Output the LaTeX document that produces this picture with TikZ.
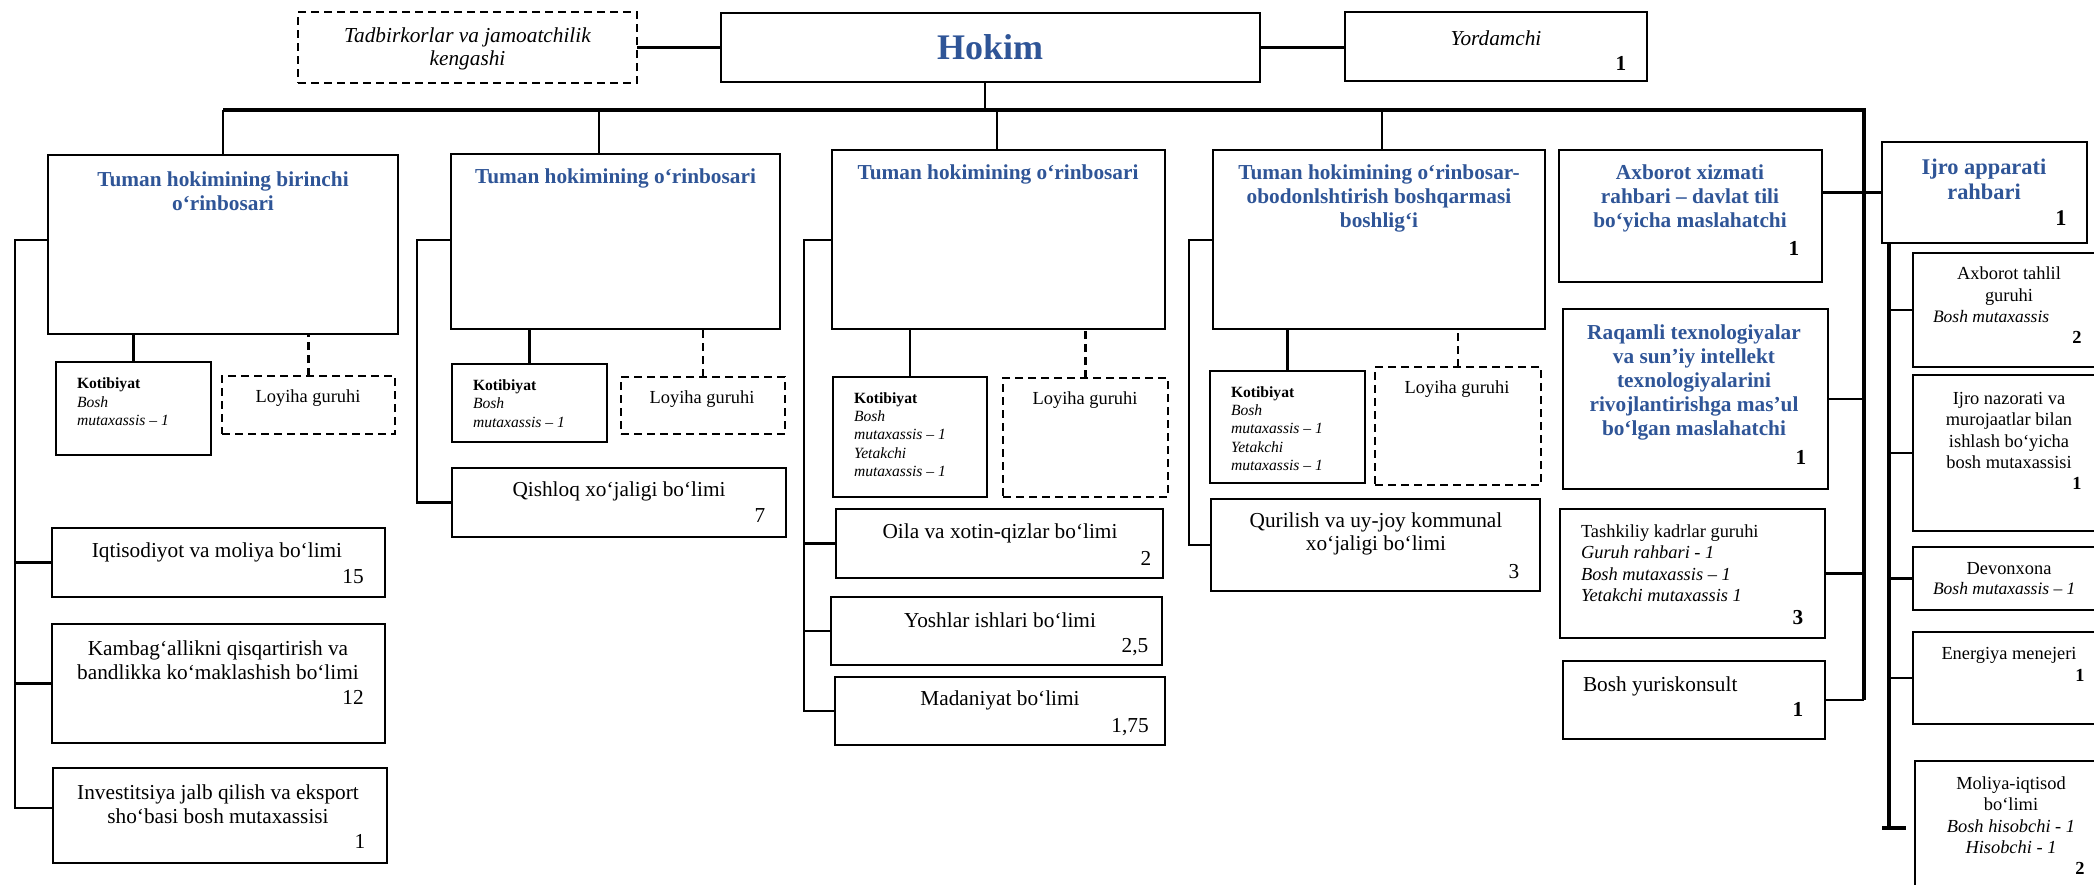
\documentclass[tikz,border=0pt]{standalone}
\usepackage{fontspec}
\setmainfont{Liberation Serif}
\usetikzlibrary{calc}
\definecolor{hblue}{RGB}{47,85,151}
\newcommand{\bx}[6]{\node[#6, minimum width={(#4)-(#2)}, minimum height={(#5)-(#3)}, anchor=north west] (#1) at (#2,#3) {};}
\tikzset{
  bxs/.style={draw, line width=2.2pt, inner sep=0pt, outer sep=0pt},
  dbx/.style={bxs, dash pattern=on 8pt off 5pt},
  conn/.style={line width=2.2pt},
  dconn/.style={line width=2.2pt, dash pattern=on 8pt off 5pt},
  bus/.style={line width=4pt, line join=miter},
  tt/.style={inner sep=0pt, outer sep=0pt, align=center},
  tr/.style={tt, font=\fontsize{21.3}{23.6}\selectfont},
  ti/.style={tt, font=\fontsize{21.3}{23}\selectfont\itshape},
  tb/.style={tt, text=hblue, font=\fontsize{21.3}{24}\selectfont\bfseries},
  tk/.style={tt, align=left, anchor=west, font=\fontsize{15.6}{18.4}\selectfont},
  tl/.style={tt, font=\fontsize{18.4}{21}\selectfont},
  ts/.style={tt, font=\fontsize{18.4}{21.5}\selectfont},
  nb/.style={tt, font=\fontsize{21.3}{23}\selectfont\bfseries},
  nbs/.style={tt, font=\fontsize{18.4}{21}\selectfont\bfseries},
}
\begin{document}
\begin{tikzpicture}[x=1pt,y=-1pt]
\useasboundingbox (0,0) rectangle (2094,884);
% ---------- top row
\bx{tadb}{298}{12}{637}{83}{dbx}
\node[ti] (tadbT) at (467.5,48.5) {Tadbirkorlar va jamoatchilik\\kengashi};
\bx{hokim}{721}{13}{1260}{82}{bxs}
\node[tt, text=hblue, font=\fontsize{36}{40}\selectfont\bfseries] (hokimT) at (990,47) {Hokim};
\bx{yord}{1345}{12}{1647}{81}{bxs}
\node[ti] (yordT) at (1496,38) {Yordamchi};
\node[nb] (yordN) at (1621,63) {1};
\draw[conn] (tadb.east) -- (hokim.west);
\draw[conn] (hokim.east) -- (yord.west |- hokim.east);
% ---------- bus
\coordinate (d1) at (223,110);
\coordinate (d2) at (599,110);
\coordinate (d3) at (997,110);
\coordinate (d4) at (1382,110);
\coordinate (busR) at (1864,110);
\coordinate (hd) at (985,82);
\draw[conn] (hd) -- (hd |- d1);
% ---------- column 1
\bx{b1}{48}{155}{398}{334}{bxs}
\node[tb] (b1T) at (223,191.5) {Tuman hokimining birinchi\\o‘rinbosari};
\bx{k1}{56}{362}{211}{455}{bxs}
\node[tk] (k1T) at (77,402) {\textbf{Kotibiyat}\\\textit{Bosh}\\\textit{mutaxassis – 1}};
\bx{l1}{222}{376}{395}{434}{dbx}
\node[tl] (l1T) at (308,398) {Loyiha guruhi};
\bx{iq}{52}{528}{385}{597}{bxs}
\node[tr] (iqT) at (217,552) {Iqtisodiyot va moliya bo‘limi};
\node[tr] (iqN) at (353,577) {15};
\bx{kb}{52}{624}{385}{743}{bxs}
\node[tr] (kbT) at (218,660) {Kambag‘allikni qisqartirish va\\bandlikka ko‘maklashish bo‘limi};
\node[tr] (kbN) at (353,697) {12};
\bx{inv}{53}{768}{387}{863}{bxs}
\node[tr] (invT) at (218,804.5) {Investitsiya jalb qilish va eksport\\sho‘basi bosh mutaxassisi};
\node[tr] (invN) at (360,841) {1};
\draw[conn] (b1.north) -- (b1.north |- d1);
\draw[conn] (k1.north) -- (k1.north |- b1.south);
\draw[dconn] (l1.north) -- (l1.north |- b1.south);
\coordinate (c1) at (15,240);
\coordinate (c1b) at (15,808);
\draw[conn] (b1.west |- c1) -- (c1) -- (c1b) -- (c1b -| inv.west);
\draw[conn] (c1 |- iq.west) -- (iq.west);
\draw[conn] (c1 |- kb.west) -- (kb.west);
% ---------- column 2
\bx{b2}{451}{154}{780}{329}{bxs}
\node[tb] (b2T) at (615.5,178) {Tuman hokimining o‘rinbosari};
\bx{k2}{452}{364}{607}{442}{bxs}
\node[tk] (k2T) at (473,403.5) {\textbf{Kotibiyat}\\\textit{Bosh}\\\textit{mutaxassis – 1}};
\bx{l2}{621}{377}{785}{434}{dbx}
\node[tl] (l2T) at (702,399) {Loyiha guruhi};
\bx{qish}{452}{468}{786}{537}{bxs}
\node[tr] (qishT) at (619,491) {Qishloq xo‘jaligi bo‘limi};
\node[tr] (qishN) at (760,516) {7};
\draw[conn] (d2) -- (d2 |- b2.north);
\draw[conn] (k2.north) -- (k2.north |- b2.south);
\draw[dconn] (l2.north) -- (l2.north |- b2.south);
\coordinate (c2) at (417,240);
\draw[conn] (b2.west |- c2) -- (c2) -- (c2 |- qish.west) -- (qish.west);
% ---------- column 3
\bx{b3}{832}{150}{1165}{329}{bxs}
\node[tb] (b3T) at (998,174) {Tuman hokimining o‘rinbosari};
\bx{k3}{833}{377}{987}{497}{bxs}
\node[tk] (k3T) at (854,434.5) {\textbf{Kotibiyat}\\\textit{Bosh}\\\textit{mutaxassis – 1}\\\textit{Yetakchi}\\\textit{mutaxassis – 1}};
\bx{l3}{1003}{378}{1168}{497}{dbx}
\node[tl] (l3T) at (1085,400) {Loyiha guruhi};
\bx{oila}{836}{509}{1163}{578}{bxs}
\node[tr] (oilaT) at (1000,533) {Oila va xotin-qizlar bo‘limi};
\node[tr] (oilaN) at (1146,558) {2};
\bx{yosh}{831}{597}{1162}{665}{bxs}
\node[tr] (yoshT) at (1000,620) {Yoshlar ishlari bo‘limi};
\node[tr] (yoshN) at (1135,647) {2,5};
\bx{mad}{835}{677}{1165}{745}{bxs}
\node[tr] (madT) at (1000,700) {Madaniyat bo‘limi};
\node[tr] (madN) at (1130,727) {1,75};
\draw[conn] (d3) -- (d3 |- b3.north);
\draw[conn] (k3.north) -- (k3.north |- b3.south);
\draw[dconn] (l3.north) -- (l3.north |- b3.south);
\coordinate (c3) at (804,240);
\draw[conn] (b3.west |- c3) -- (c3) -- (c3 |- mad.west) -- (mad.west);
\draw[conn] (c3 |- oila.west) -- (oila.west);
\draw[conn] (c3 |- yosh.west) -- (yosh.west);
% ---------- column 4
\bx{b4}{1213}{150}{1545}{329}{bxs}
\node[tb] (b4T) at (1379,198) {Tuman hokimining o‘rinbosar-\\obodonlshtirish boshqarmasi\\boshlig‘i};
\bx{k4}{1210}{371}{1365}{483}{bxs}
\node[tk] (k4T) at (1231,428.5) {\textbf{Kotibiyat}\\\textit{Bosh}\\\textit{mutaxassis – 1}\\\textit{Yetakchi}\\\textit{mutaxassis – 1}};
\bx{l4}{1375}{367}{1541}{485}{dbx}
\node[tl] (l4T) at (1457,389) {Loyiha guruhi};
\bx{qur}{1211}{499}{1540}{591}{bxs}
\node[tr] (qurT) at (1376,534) {Qurilish va uy-joy kommunal\\xo‘jaligi bo‘limi};
\node[tr] (qurN) at (1514,572) {3};
\draw[conn] (d4) -- (d4 |- b4.north);
\draw[conn] (k4.north) -- (k4.north |- b4.south);
\draw[dconn] (l4.north) -- (l4.north |- b4.south);
\coordinate (c4) at (1189,240);
\draw[conn] (b4.west |- c4) -- (c4) -- (c4 |- qur.west) -- (qur.west);
% ---------- column 5
\bx{ax}{1559}{150}{1822}{282}{bxs}
\node[tb] (axT) at (1690,198.5) {Axborot xizmati\\rahbari – davlat tili\\bo‘yicha maslahatchi};
\node[nb] (axN) at (1794,248) {1};
\bx{raq}{1563}{309}{1828}{489}{bxs}
\node[tb] (raqT) at (1694,382) {Raqamli texnologiyalar\\va sun’iy intellekt\\texnologiyalarini\\rivojlantirishga mas’ul\\bo‘lgan maslahatchi};
\node[nb] (raqN) at (1801,457) {1};
\bx{tash}{1560}{509}{1825}{638}{bxs}
\node[ts, align=left, anchor=west] (tashT) at (1581,563) {Tashkiliy kadrlar guruhi\\\textit{Guruh rahbari - 1}\\\textit{Bosh mutaxassis – 1}\\\textit{Yetakchi mutaxassis 1}};
\node[nb] (tashN) at (1798,618) {3};
\bx{yur}{1563}{661}{1825}{739}{bxs}
\node[tr, anchor=west] (yurT) at (1583,686) {Bosh yuriskonsult};
\node[nb] (yurN) at (1798,709) {1};
% bus with right descent
\draw[bus] (d1) -- (busR) -- (busR |- yur.east);
\draw[conn] (busR |- yur.east) -- (yur.east);
\draw[conn] (raq.east) -- (raq.east -| busR);
\draw[conn] (tash.east) -- (tash.east -| busR);
% ---------- right column
\bx{ijro}{1882}{142}{2087}{243}{bxs}
\node[tt, text=hblue, font=\fontsize{22.4}{25}\selectfont\bfseries] (ijroT) at (1984,179.5) {Ijro apparati\\rahbari};
\node[tt, font=\fontsize{22.4}{25}\selectfont\bfseries] (ijroN) at (2061,218) {1};
\draw[conn] (ijro.west) -- (ijro.west -| ax.east);
\bx{at}{1913}{253}{2100}{367}{bxs}
\node[ts] (atT) at (2009,286) {Axborot tahlil\\guruhi};
\node[ts, anchor=west, font=\fontsize{17.5}{20}\selectfont\itshape] (atS) at (1933,317) {Bosh mutaxassis};
\node[nbs] (atN) at (2077,337) {2};
\bx{ijn}{1913}{375}{2100}{531}{bxs}
\node[ts] (ijnT) at (2009,430.5) {Ijro nazorati va\\murojaatlar bilan\\ishlash bo‘yicha\\bosh mutaxassisi};
\node[nbs] (ijnN) at (2077,483) {1};
\bx{dev}{1913}{547}{2100}{610}{bxs}
\node[ts] (devT) at (2009,569) {Devonxona};
\node[ts, anchor=west, font=\fontsize{17.5}{20}\selectfont\itshape] (devS) at (1933,589) {Bosh mutaxassis – 1};
\bx{en}{1913}{632}{2100}{724}{bxs}
\node[ts] (enT) at (2009,655) {Energiya menejeri};
\node[nbs] (enN) at (2080,675) {1};
\bx{mol}{1915}{761}{2100}{900}{bxs}
\node[ts] (molT) at (2011,815) {Moliya-iqtisod\\bo‘limi\\\textit{Bosh hisobchi - 1}\\\textit{Hisobchi - 1}};
\node[nbs] (molN) at (2080,868) {2};
\coordinate (rct) at (1889,243);
\coordinate (rcb) at (1889,828);
\draw[bus] (rct) -- (rcb);
\draw[bus] ([xshift=-7pt]rcb) -- ([xshift=17pt]rcb);
\draw[conn] (rct |- at.west) -- (at.west);
\draw[conn] (rct |- ijn.west) -- (ijn.west);
\draw[conn] (rct |- dev.west) -- (dev.west);
\draw[conn] (rct |- en.west) -- (en.west);
\end{tikzpicture}
\end{document}
